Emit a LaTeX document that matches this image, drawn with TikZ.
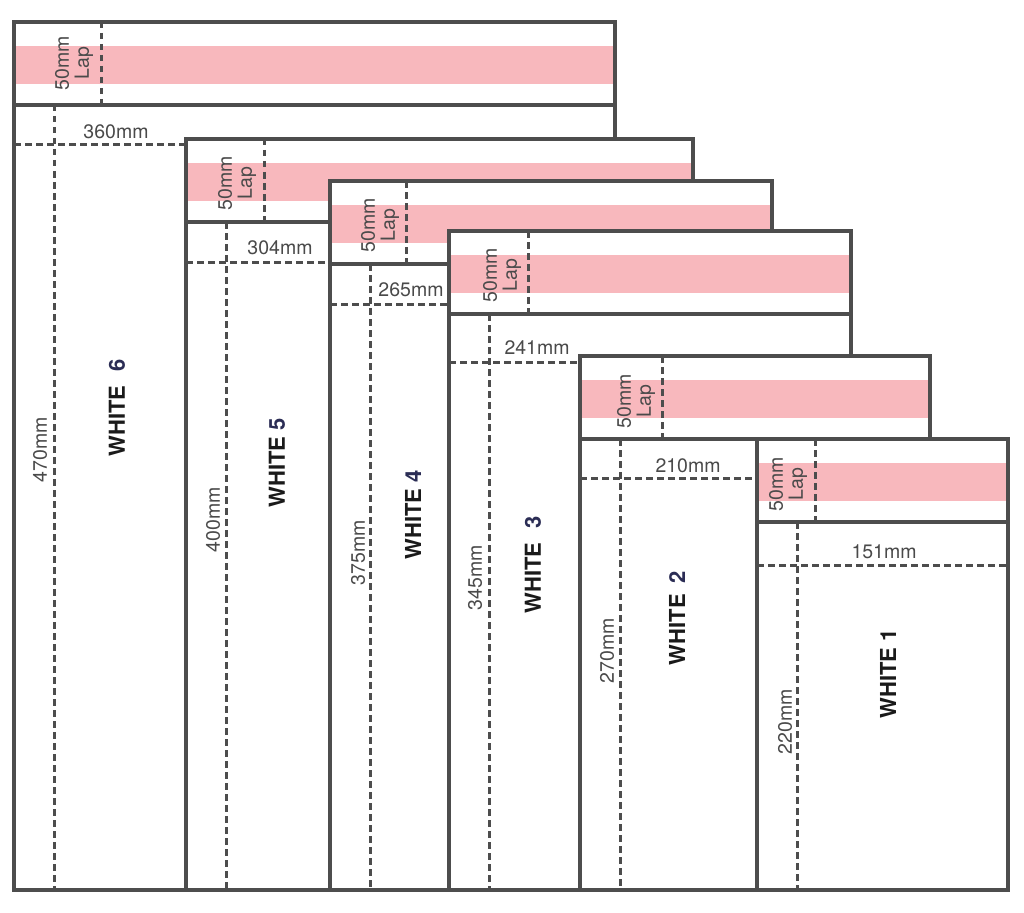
\documentclass[tikz,border=0pt]{standalone}
\usepackage{fontspec}
\setmainfont{TeX Gyre Heros}
\definecolor{edge}{HTML}{4D4D4D}
\definecolor{lap}{HTML}{F8B8BD}
\definecolor{dim}{HTML}{4A4A4A}
\definecolor{navy}{HTML}{2B2D55}
\definecolor{ink}{HTML}{1A1A1A}
\tikzset{
  outline/.style={draw=edge, line width=3.4pt},
  guide/.style={draw=edge, line width=3pt, dash pattern=on 6.5pt off 4.5pt},
  dimlabel/.style={text=dim, font=\fontsize{19.5}{20}\selectfont, inner sep=0pt},
  vdimlabel/.style={dimlabel, rotate=90},
  laplabel/.style={dimlabel, rotate=90, align=center},
  namelabel/.style={text=ink, font=\fontsize{22}{24}\selectfont\bfseries, rotate=90, inner sep=0pt},
}
\newcommand\sheetdraw[5]{% left, top, right, lap guide x, width guide y
  \fill[white] ({#1},{#2}) rectangle ({#3},890);
  \fill[lap] ({#1},{#2+24}) rectangle ({#3},{#2+62});
  \draw[guide] ({#4},{#2}) -- ({#4},{#2+83});
  \draw[guide] ({#1+40},{#2+83}) -- ({#1+40},890);
  \draw[guide] ({#1},{#5}) -- ({#3},{#5});
  \draw[outline] ({#1},{#2}) rectangle ({#3},890);
  \draw[outline] ({#1},{#2+83}) -- ({#3},{#2+83});
}
\begin{document}
\begin{tikzpicture}[x=1pt,y=-1pt]
\useasboundingbox (0,0) rectangle (1024,912);
\fill[white] (0,0) rectangle (1024,912);

% WHITE 6
\sheetdraw{14}{22}{615}{101}{145}
\node[laplabel] (lap6) at (74,63) {50mm\\Lap};
\node[dimlabel] (wid6) at (116,132) {360mm};
\node[vdimlabel] (len6) at (40,450) {470mm};
\node[namelabel] (name6) at (117,408) {WHITE\hspace{14pt}{\color{navy}6}};

% WHITE 5
\sheetdraw{186}{139}{693}{264}{262}
\node[laplabel] (lap5) at (237,183) {50mm\\Lap};
\node[dimlabel] (wid5) at (280,248) {304mm};
\node[vdimlabel] (len5) at (213,520) {400mm};
\node[namelabel] (name5) at (277,463) {WHITE {\color{navy}5}};

% WHITE 4
\sheetdraw{330}{181}{772}{406}{304}
\node[laplabel] (lap4) at (380,225) {50mm\\Lap};
\node[dimlabel] (wid4) at (411,290) {265mm};
\node[vdimlabel] (len4) at (358,553) {375mm};
\node[namelabel] (name4) at (413,515) {WHITE {\color{navy}4}};

% WHITE 3
\sheetdraw{449}{231}{851}{528}{362}
\node[laplabel] (lap3) at (502,275) {50mm\\Lap};
\node[dimlabel] (wid3) at (537,348) {241mm};
\node[vdimlabel] (len3) at (475,578) {345mm};
\node[namelabel] (name3) at (533,565) {WHITE\hspace{14pt}{\color{navy}3}};

% WHITE 2
\sheetdraw{580}{356}{930}{662}{478}
\node[laplabel] (lap2) at (636,401) {50mm\\Lap};
\node[dimlabel] (wid2) at (688,466) {210mm};
\node[vdimlabel] (len2) at (607,651) {270mm};
\node[namelabel] (name2) at (677,618) {WHITE\hspace{11pt}{\color{navy}2}};

% WHITE 1
\sheetdraw{757}{439}{1008}{815}{565}
\node[laplabel] (lap1) at (788,484) {50mm\\Lap};
\node[dimlabel] (wid1) at (884,552) {151mm};
\node[vdimlabel] (len1) at (785,722) {220mm};
\node[namelabel] (name1) at (888,674) {WHITE 1};
\end{tikzpicture}
\end{document}
